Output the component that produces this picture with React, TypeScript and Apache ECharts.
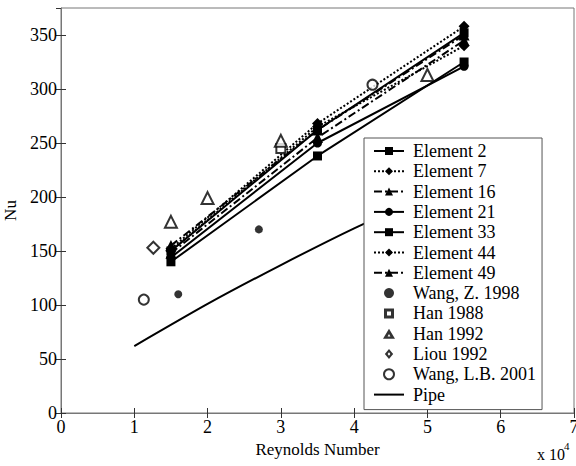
import React, { useEffect, useRef } from "react";
import * as echarts from "echarts";

const reynolds = [1.5, 3.5, 5.5];
const element2 = [140, 238, 325];
const element7 = [152, 268, 358];
const element16 = [148, 255, 345];
const element21 = [144, 250, 321];
const element33 = [150, 262, 352];
const element44 = [150, 265, 340];
const element49 = [155, 262, 350];

const wangZ1998: [number, number][] = [[1.6, 110], [2.7, 170]];
const han1988: [number, number][] = [[3.0, 245]];
const han1992: [number, number][] = [[1.5, 177], [2.0, 199], [3.0, 252], [5.0, 313]];
const liou1992: [number, number][] = [[1.26, 153]];
const wangLB2001: [number, number][] = [[1.13, 105], [4.25, 304]];
const pipe: [number, number][] = [[1.0, 62], [2.0, 101], [3.0, 137], [4.0, 171], [5.5, 218]];

const xTicks = [0, 1, 2, 3, 4, 5, 6, 7];
const yTicks = [0, 50, 100, 150, 200, 250, 300, 350];

const FONT = "Liberation Serif";

const ICON_SQUARE = "path://M0,0 L10,0 L10,10 L0,10 Z M3,3 L3,7 L7,7 L7,3 Z";
const ICON_TRIANGLE = "path://M6,0 L12,10 L0,10 Z M6,5.2 L4.6,7.7 L7.4,7.7 Z";
const ICON_DIAMOND = "path://M5,0 L10,6 L5,12 L0,6 Z M5,4 L3.4,6 L5,8 L6.6,6 Z";
const ICON_DOT = "path://M0,0 A4,4 0 1,1 0,0.01 Z";
const ICON_PIPE = "path://M0,0 L30,0 L30,2 L0,2 Z";

function elementSeries(name: string, values: number[], symbol: string, lineType: any) {
  return {
    name,
    type: "line",
    data: reynolds.map((x, i) => [x, values[i]]),
    symbol,
    symbolSize: symbol === "rect" ? 9 : symbol === "circle" ? 9 : 11,
    itemStyle: { color: "#000" },
    lineStyle: { color: "#000", width: 2, type: lineType },
    z: 3,
  };
}

function scatterSeries(name: string, data: [number, number][], symbol: string, size: number) {
  const empty = symbol.startsWith("empty");
  return {
    name,
    type: "scatter",
    data,
    symbol,
    symbolSize: size,
    itemStyle: { color: "#000", borderColor: "#000", borderWidth: empty ? 2.4 : 0 },
    z: 4,
  };
}

export default function App() {
  const ref = useRef<HTMLDivElement>(null);
  useEffect(() => {
    if (!ref.current) return;
    const chart = echarts.init(ref.current, undefined, { renderer: "svg" });
    const dashDot = [8, 3, 2, 3];
    chart.setOption({
      animation: false,
      backgroundColor: "#fff",
      textStyle: { fontFamily: FONT, color: "#000" },
      grid: { left: 61, right: 2, top: 8, bottom: 53, show: true, borderColor: "#777", borderWidth: 1, containLabel: false, outerBoundsMode: "none" },
      xAxis: [
        {
          type: "value",
          min: 0,
          max: 7,
          interval: 1,
          name: "Reynolds Number",
          nameLocation: "middle",
          nameGap: 19,
          nameTextStyle: { fontFamily: FONT, fontSize: 17, color: "#000" },
          axisLine: { lineStyle: { color: "#777" } },
          axisTick: { inside: true, length: 5, lineStyle: { color: "#333" } },
          axisLabel: { fontFamily: FONT, fontSize: 18, color: "#000", margin: 5, formatter: (v: number) => (xTicks.includes(v) ? String(v) : "") },
          splitLine: { show: false },
        },
        {
          type: "value",
          position: "top",
          min: 0,
          max: 7,
          interval: 1,
          axisLine: { show: false },
          axisTick: { inside: true, length: 5, lineStyle: { color: "#333" } },
          axisLabel: { show: false },
          splitLine: { show: false },
        },
      ],
      yAxis: [
        {
          type: "value",
          min: 0,
          max: 375,
          interval: 50,
          name: "Nu",
          nameLocation: "middle",
          nameGap: 36,
          nameTextStyle: { fontFamily: FONT, fontSize: 17, color: "#000" },
          axisLine: { show: true, lineStyle: { color: "#777" } },
          axisTick: { show: true, inside: true, length: 5, lineStyle: { color: "#333" } },
          axisLabel: { fontFamily: FONT, fontSize: 18, color: "#000", margin: 4, showMaxLabel: false, formatter: (v: number) => (yTicks.includes(v) ? String(v) : "") },
          splitLine: { show: false },
        },
        {
          type: "value",
          position: "right",
          min: 0,
          max: 375,
          interval: 50,
          axisLine: { show: false },
          axisTick: { show: true, inside: true, length: 5, lineStyle: { color: "#333" } },
          axisLabel: { show: false },
          splitLine: { show: false },
        },
      ],
      legend: {
        orient: "vertical",
        left: 364,
        top: 138,
        backgroundColor: "#fff",
        borderColor: "#555",
        borderWidth: 1,
        padding: [4, 6, 6, 9],
        itemGap: 2.3,
        itemWidth: 30,
        itemHeight: 10,
        symbolKeepAspect: true,
        textStyle: { fontFamily: FONT, fontSize: 18, color: "#000", padding: [0, 0, 0, 4] },
        data: [
          "Element 2", "Element 7", "Element 16", "Element 21", "Element 33", "Element 44", "Element 49",
          { name: "Wang, Z. 1998", icon: ICON_DOT },
          { name: "Han 1988", icon: ICON_SQUARE, itemStyle: { borderWidth: 0 } },
          { name: "Han 1992", icon: ICON_TRIANGLE, itemStyle: { borderWidth: 0 } },
          { name: "Liou 1992", icon: ICON_DIAMOND, itemStyle: { borderWidth: 0 } },
          "Wang, L.B. 2001",
          { name: "Pipe", icon: ICON_PIPE },
        ],
      },
      graphic: [
        { type: "text", left: 537, top: 446, style: { text: "x 10", fontFamily: FONT, fontSize: 16, fill: "#000" } },
        { type: "text", left: 564, top: 440, style: { text: "4", fontFamily: FONT, fontSize: 11, fill: "#000" } },
      ],
      series: [
        elementSeries("Element 2", element2, "rect", "solid"),
        elementSeries("Element 7", element7, "diamond", "dotted"),
        elementSeries("Element 16", element16, "triangle", dashDot),
        elementSeries("Element 21", element21, "circle", "solid"),
        elementSeries("Element 33", element33, "rect", "solid"),
        elementSeries("Element 44", element44, "diamond", "dotted"),
        elementSeries("Element 49", element49, "triangle", dashDot),
        scatterSeries("Wang, Z. 1998", wangZ1998, "circle", 8),
        scatterSeries("Han 1988", han1988, "emptyRect", 9),
        scatterSeries("Han 1992", han1992, "emptyTriangle", 12),
        scatterSeries("Liou 1992", liou1992, "emptyDiamond", 12),
        scatterSeries("Wang, L.B. 2001", wangLB2001, "emptyCircle", 10),
        {
          name: "Pipe",
          type: "line",
          data: pipe,
          symbol: "none",
          smooth: 0.2,
          itemStyle: { color: "#000" },
          lineStyle: { color: "#000", width: 2 },
          z: 2,
        },
      ],
    });
    return () => chart.dispose();
  }, []);
  return <div ref={ref} style={{ position: "fixed", left: 0, top: 0, width: 576, height: 466 }} />;
}
